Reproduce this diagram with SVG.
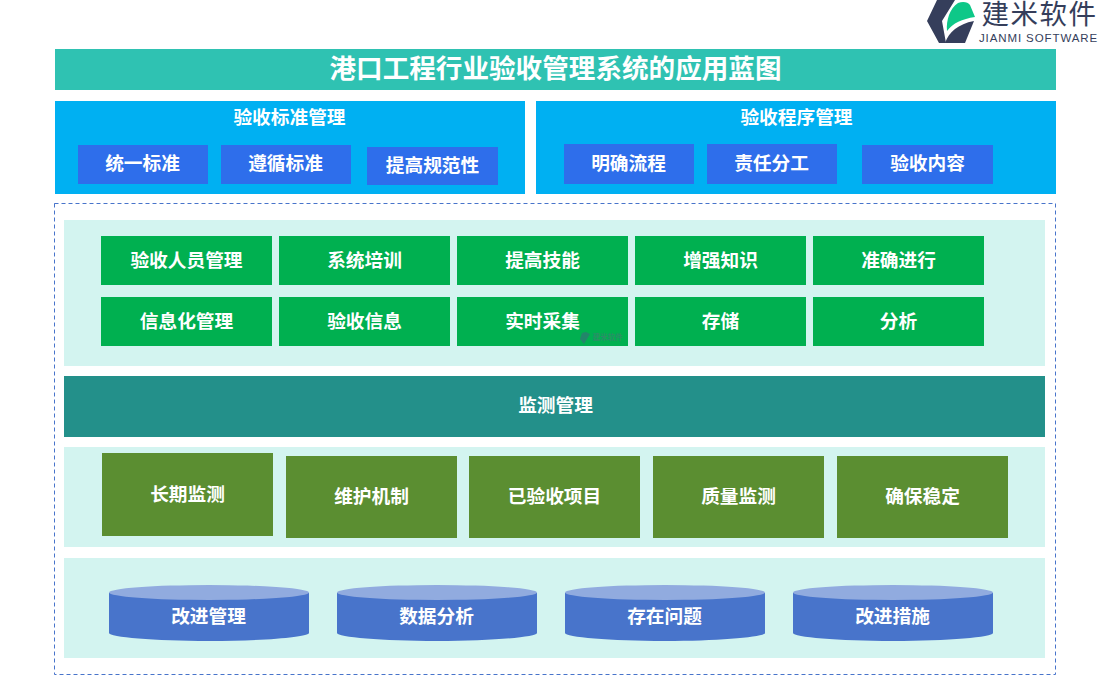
<svg xmlns="http://www.w3.org/2000/svg" width="1100" height="700" viewBox="0 0 1100 700">
<style>
text{font-family:"Noto Sans CJK SC","Noto Sans",sans-serif;font-weight:700;fill:#fff;text-anchor:middle;font-size:18.700px;transform:translate(-.5px,-.4px)}
.panel{fill:#d3f4f0}
.blue{fill:#00b0f2}
.sub{fill:#2e6eeb}
.green{fill:#00b050}
.olive{fill:#5b8e31}
.cyl{fill:#4874cb}
.top{fill:#91abdf}
</style>
<defs>
<g id="cyl"><path class="cyl" d="M0 8V48C0 52 45 56 100 56S200 52 200 48V8Z"/><ellipse class="top" cx="100" cy="7.500" rx="100" ry="7.500"/></g>
</defs>
<g id="logo">
<path d="M937 0H955L942 21L946 43H939L927 21Z" fill="#353e5b"/>
<path d="M947 31C946 20 950 8 958 3C963 1 968 2 970 5L975 17C962 19 953 23 947 31Z" fill="#0ec888"/>
<path d="M974 21L965 43H945C949 32 958 24 974 21Z" fill="#353e5b"/>
<text x="1040" y="24.500" style="font-size:27.500px;font-weight:400;fill:#353e5b;letter-spacing:1.500px">建米软件</text>
<text x="1039" y="42" style="font-family:'Liberation Sans',sans-serif;font-size:11.500px;font-weight:400;fill:#353e5b;letter-spacing:.9px">JIANMI SOFTWARE</text>
</g>
<g id="title"><rect x="55" y="49" width="1001" height="41" fill="#2fc2b2"/><text x="556" y="78" style="font-size:26.600px">港口工程行业验收管理系统的应用蓝图</text></g>
<g id="standard"><rect class="blue" x="55" y="101" width="470" height="93"/><text x="290" y="124.500">验收标准管理</text></g>
<g id="n1"><rect class="sub" x="78" y="145" width="130" height="39"/><text x="143" y="170.500">统一标准</text></g>
<g id="n2"><rect class="sub" x="221" y="145" width="130" height="39"/><text x="286" y="170.500">遵循标准</text></g>
<g id="n3"><rect class="sub" x="367" y="147" width="131" height="38"/><text x="433" y="172">提高规范性</text></g>
<g id="procedure"><rect class="blue" x="536" y="101" width="520" height="93"/><text x="797" y="124.500">验收程序管理</text></g>
<g id="n4"><rect class="sub" x="564" y="144" width="130" height="40"/><text x="629" y="170.500">明确流程</text></g>
<g id="n5"><rect class="sub" x="707" y="144" width="130" height="40"/><text x="772" y="170.500">责任分工</text></g>
<g id="n6"><rect class="sub" x="862" y="145" width="131" height="39"/><text x="928" y="170.500">验收内容</text></g>
<rect id="frame" x="54.500" y="203.500" width="1001" height="471" fill="none" stroke="#4874cb" stroke-dasharray="4 3"/>
<rect class="panel" x="64" y="220" width="981" height="146"/>
<g id="g1"><rect class="green" x="101" y="236" width="171" height="49"/><text x="187" y="267">验收人员管理</text></g>
<g id="g2"><rect class="green" x="279" y="236" width="171" height="49"/><text x="365" y="267">系统培训</text></g>
<g id="g3"><rect class="green" x="457" y="236" width="171" height="49"/><text x="543" y="267">提高技能</text></g>
<g id="g4"><rect class="green" x="635" y="236" width="171" height="49"/><text x="721" y="267">增强知识</text></g>
<g id="g5"><rect class="green" x="813" y="236" width="171" height="49"/><text x="899" y="267">准确进行</text></g>
<g id="g6"><rect class="green" x="101" y="297" width="171" height="49"/><text x="187" y="328">信息化管理</text></g>
<g id="g7"><rect class="green" x="279" y="297" width="171" height="49"/><text x="365" y="328">验收信息</text></g>
<g id="g8"><rect class="green" x="457" y="297" width="171" height="49"/><text x="543" y="328">实时采集</text></g>
<g id="g9"><rect class="green" x="635" y="297" width="171" height="49"/><text x="721" y="328">存储</text></g>
<g id="g10"><rect class="green" x="813" y="297" width="171" height="49"/><text x="899" y="328">分析</text></g>
<g id="watermark"><path d="M582 333L586 332L590 334L587 339L584 344L580 339Z" fill="#22866a"/><text x="608" y="340" style="font-size:7.500px;fill:#2a8f66">建米软件</text></g>
<g id="monitor"><rect x="64" y="376" width="981" height="61" fill="#23908a"/><text x="556" y="412.500">监测管理</text></g>
<rect class="panel" x="64" y="447" width="981" height="100"/>
<g id="o1"><rect class="olive" x="102" y="453" width="171" height="83"/><text x="188" y="501">长期监测</text></g>
<g id="o2"><rect class="olive" x="286" y="456" width="171" height="82"/><text x="372" y="503">维护机制</text></g>
<g id="o3"><rect class="olive" x="469" y="456" width="171" height="82"/><text x="555" y="503">已验收项目</text></g>
<g id="o4"><rect class="olive" x="653" y="456" width="171" height="82"/><text x="739" y="503">质量监测</text></g>
<g id="o5"><rect class="olive" x="837" y="456" width="171" height="82"/><text x="923" y="503">确保稳定</text></g>
<rect class="panel" x="64" y="558" width="981" height="100"/>
<g id="c1"><use href="#cyl" x="109" y="585"/><text x="209" y="623">改进管理</text></g>
<g id="c2"><use href="#cyl" x="337" y="585"/><text x="437" y="623">数据分析</text></g>
<g id="c3"><use href="#cyl" x="565" y="585"/><text x="665" y="623">存在问题</text></g>
<g id="c4"><use href="#cyl" x="793" y="585"/><text x="893" y="623">改进措施</text></g>
<g id="connectors"/>
</svg>
